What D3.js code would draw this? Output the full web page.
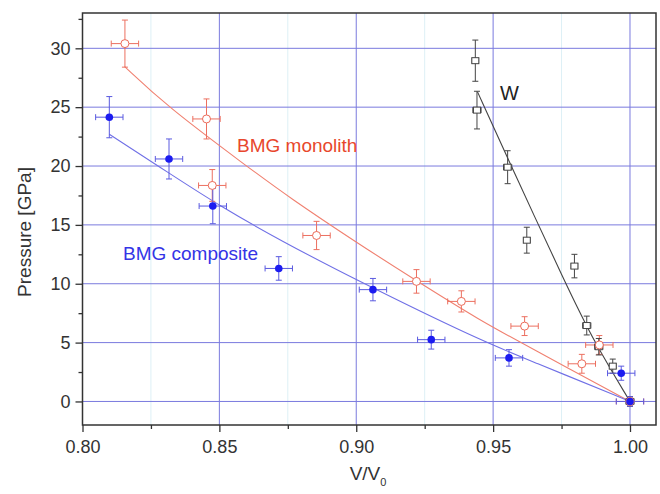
<!DOCTYPE html>
<html>
<head>
<meta charset="utf-8">
<script src="https://cdn.jsdelivr.net/npm/d3@7"></script>
<style>
body { margin: 0; background: #fff; }
svg { display: block; font-family: "Liberation Sans", Arial, sans-serif; }
</style>
</head>
<body>
<script>
// * Data

// BMG monolith (open red circles)
const monoV = [0.8155, 0.8453, 0.8474, 0.8855, 0.9220, 0.9384, 0.9615, 0.9824, 0.9888, 1.0];
const monoP = [30.4, 24.0, 18.35, 14.1, 10.2, 8.5, 6.4, 3.2, 4.8, 0.0];
const monoErrV = [0.005, 0.005, 0.005, 0.005, 0.005, 0.005, 0.005, 0.005, 0.005, 0.005];
const monoErrP = [2.0, 1.7, 1.35, 1.2, 1.0, 0.9, 0.8, 0.8, 0.8, 0.4];

// BMG composite (filled blue circles)
const compV = [0.8098, 0.8316, 0.8476, 0.8717, 0.9061, 0.9274, 0.9558, 0.9968, 1.0];
const compP = [24.15, 20.6, 16.6, 11.3, 9.5, 5.25, 3.7, 2.4, 0.0];
const compErrV = [0.005, 0.005, 0.005, 0.005, 0.005, 0.005, 0.005, 0.005, 0.005];
const compErrP = [1.75, 1.7, 1.5, 1.0, 0.95, 0.8, 0.7, 0.6, 0.4];

// W (open black squares)
const wV = [0.9435, 0.9441, 0.9553, 0.9623, 0.9797, 0.9842, 0.9886, 0.9937, 1.0];
const wP = [28.95, 24.75, 19.9, 13.7, 11.5, 6.45, 4.65, 3.0, 0.0];
const wErrV = [0.0012, 0.0015, 0.0015, 0.0012, 0.0012, 0.0015, 0.0015, 0.0012, 0.0015];
const wErrP = [1.75, 1.6, 1.4, 1.1, 1.0, 0.8, 0.7, 0.6, 0.4];

// fitted curves
const monoFitV = [0.8154, 0.8307, 0.8599, 0.8757, 0.9001, 0.9220, 0.9451, 0.9633, 1.0];
const monoFitP = [28.45, 25.1, 20.0, 17.3, 13.5, 10.25, 6.9, 4.6, 0.0];
const compFitV = [0.8098, 0.8316, 0.8502, 0.8721, 0.9001, 0.9451, 0.9633, 1.0];
const compFitP = [22.7, 19.4, 16.6, 13.7, 10.3, 5.2, 3.5, 0.0];
const wFitV = [0.9443, 0.9566, 0.9765, 0.9870, 1.0];
const wFitP = [26.3, 20.0, 10.0, 5.0, 0.0];

// ticks
const xTicks = [0.80, 0.85, 0.90, 0.95, 1.00];
const xMinor = [0.825, 0.875, 0.925, 0.975];
const yTicks = [0, 5, 10, 15, 20, 25, 30];
const yMinor = [2.5, 7.5, 12.5, 17.5, 22.5, 27.5, 32.5];

// * Size & Margins
const width = 660;
const height = 494;
const margin = { top: 13, right: 4, bottom: 69, left: 82.5 };

const svg = d3
	.select("body")
	.append("svg")
	.attr("width", width)
	.attr("height", height);

const x = d3
	.scaleLinear()
	.domain([0.8, 1.0095])
	.range([margin.left, width - margin.right]);

const y = d3
	.scaleLinear()
	.domain([-2, 33])
	.range([height - margin.bottom, margin.top]);

// * Grid
svg.append("g")
	.selectAll("line")
	.data(xMinor)
	.join("line")
	.attr("x1", (d) => x(d))
	.attr("x2", (d) => x(d))
	.attr("y1", y(33))
	.attr("y2", y(-2))
	.attr("stroke", "#ddf0f6")
	.attr("stroke-width", 1);

svg.append("g")
	.selectAll("line")
	.data(xTicks.slice(1))
	.join("line")
	.attr("x1", (d) => x(d))
	.attr("x2", (d) => x(d))
	.attr("y1", y(33))
	.attr("y2", y(-2))
	.attr("stroke", "#7a7ade")
	.attr("stroke-width", 1);

svg.append("g")
	.selectAll("line")
	.data(yTicks)
	.join("line")
	.attr("x1", x(0.8))
	.attr("x2", x(1.0095))
	.attr("y1", (d) => y(d))
	.attr("y2", (d) => y(d))
	.attr("stroke", "#7a7ade")
	.attr("stroke-width", 1);

// * Fit lines
const line = d3
	.line()
	.x((d) => x(d[0]))
	.y((d) => y(d[1]))
	.curve(d3.curveBasis);

const fits = [
	{ v: monoFitV, p: monoFitP, color: "#f08070" },
	{ v: compFitV, p: compFitP, color: "#7070e6" },
	{ v: wFitV, p: wFitP, color: "#444" },
];
fits.forEach((f) => {
	svg.append("path")
		.datum(f.v.map((v, i) => [v, f.p[i]]))
		.attr("fill", "none")
		.attr("stroke", f.color)
		.attr("stroke-width", 1.1)
		.attr("d", line);
});

// * Error bars
function errorBars(vs, ps, ev, ep, color) {
	const g = svg.append("g").attr("stroke", color).attr("stroke-width", 1);
	const cap = 3;
	vs.forEach((v, i) => {
		const cx = x(v);
		const cy = y(ps[i]);
		const y0 = y(ps[i] - ep[i]);
		const y1 = y(ps[i] + ep[i]);
		const x0 = x(v - ev[i]);
		const x1 = x(v + ev[i]);
		g.append("line").attr("x1", cx).attr("x2", cx).attr("y1", y0).attr("y2", y1);
		g.append("line").attr("x1", cx - cap).attr("x2", cx + cap).attr("y1", y0).attr("y2", y0);
		g.append("line").attr("x1", cx - cap).attr("x2", cx + cap).attr("y1", y1).attr("y2", y1);
		g.append("line").attr("x1", x0).attr("x2", x1).attr("y1", cy).attr("y2", cy);
		g.append("line").attr("x1", x0).attr("x2", x0).attr("y1", cy - cap).attr("y2", cy + cap);
		g.append("line").attr("x1", x1).attr("x2", x1).attr("y1", cy - cap).attr("y2", cy + cap);
	});
}

errorBars(monoV, monoP, monoErrV, monoErrP, "#ec7060");
errorBars(wV, wP, wErrV, wErrP, "#444");
errorBars(compV, compP, compErrV, compErrP, "#5a5ae0");

// * Markers
svg.append("g")
	.selectAll("rect")
	.data(wV)
	.join("rect")
	.attr("x", (d) => x(d) - 3.5)
	.attr("y", (d, i) => y(wP[i]) - 3)
	.attr("width", 7)
	.attr("height", 6)
	.attr("fill", "#fff")
	.attr("stroke", "#444")
	.attr("stroke-width", 1);

svg.append("g")
	.selectAll("circle")
	.data(monoV)
	.join("circle")
	.attr("cx", (d) => x(d))
	.attr("cy", (d, i) => y(monoP[i]))
	.attr("r", 4)
	.attr("fill", "#fff")
	.attr("stroke", "#ec6a58")
	.attr("stroke-width", 1);

svg.append("g")
	.selectAll("circle")
	.data(compV)
	.join("circle")
	.attr("cx", (d) => x(d))
	.attr("cy", (d, i) => y(compP[i]))
	.attr("r", 3.8)
	.attr("fill", "#1c1cf0");

// * Frame
svg.append("rect")
	.attr("x", x(0.8))
	.attr("y", y(33))
	.attr("width", x(1.0095) - x(0.8))
	.attr("height", y(-2) - y(33))
	.attr("fill", "none")
	.attr("stroke", "#333")
	.attr("stroke-width", 1.5);

// * Axes
svg.append("g")
	.attr("transform", `translate(0,${y(-2)})`)
	.call(d3.axisBottom(x).tickValues(xTicks).tickSize(7).tickPadding(8).tickFormat(d3.format(".2f")));
svg.append("g")
	.attr("transform", `translate(0,${y(-2)})`)
	.call(d3.axisBottom(x).tickValues(xMinor).tickSize(4).tickFormat(""));

svg.append("g")
	.attr("transform", `translate(${x(0.8)},0)`)
	.call(d3.axisLeft(y).tickValues(yTicks).tickSize(7).tickPadding(5));
svg.append("g")
	.attr("transform", `translate(${x(0.8)},0)`)
	.call(d3.axisLeft(y).tickValues(yMinor).tickSize(4).tickFormat(""));

svg.selectAll(".domain").remove();
svg.selectAll(".tick line").attr("stroke", "#333").attr("stroke-width", 1.3);
svg.selectAll(".tick text")
	.attr("font-size", "18px")
	.attr("font-family", "Liberation Sans, Arial, sans-serif")
	.attr("fill", "#333");

// * Axis labels
svg.append("text")
	.attr("transform", "translate(31,232) rotate(-90)")
	.attr("text-anchor", "middle")
	.attr("font-size", "19px")
	.attr("fill", "#333")
	.text("Pressure [GPa]");

const xl = svg.append("text")
	.attr("x", 368)
	.attr("y", 480)
	.attr("text-anchor", "middle")
	.attr("font-size", "19px")
	.attr("fill", "#333");
xl.append("tspan").text("V/V");
xl.append("tspan").attr("font-size", "11px").attr("dy", 6).text("0");

// * Curve labels
svg.append("text")
	.attr("x", 237)
	.attr("y", 152)
	.attr("font-size", "19px")
	.attr("fill", "#e8472c")
	.text("BMG monolith");

svg.append("text")
	.attr("x", 123)
	.attr("y", 260)
	.attr("font-size", "19px")
	.attr("fill", "#3434e6")
	.text("BMG composite");

svg.append("text")
	.attr("x", 500)
	.attr("y", 100)
	.attr("font-size", "20px")
	.attr("fill", "#222")
	.text("W");
</script>
</body>
</html>
